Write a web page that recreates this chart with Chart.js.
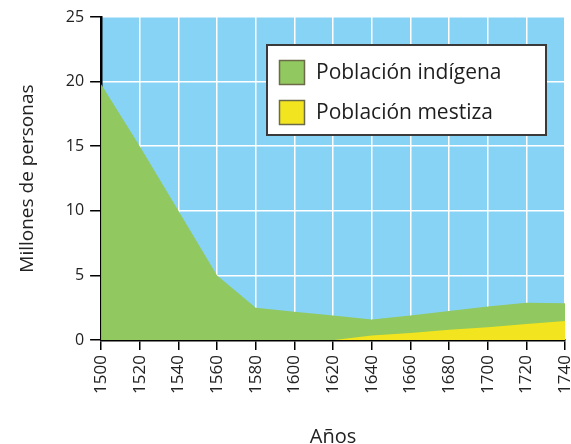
<!DOCTYPE html>
<html><head><meta charset="utf-8">
<script src="https://cdn.jsdelivr.net/npm/chart.js@4.4.0/dist/chart.umd.min.js"></script>
<style>html,body{margin:0;padding:0;background:#fff}#w{width:571px;height:444px}</style>
</head><body><div id="w"><canvas id="c"></canvas></div>
<script>
const years = ['1500','1520','1540','1560','1580','1600','1620','1640','1660','1680','1700','1720','1740'];
const indigena = [19.8,15,10,5,2.5,2.2,1.9,1.6,1.9,2.25,2.6,2.9,2.85];
const mestiza = [null,null,null,null,null,null,0,0.35,0.55,0.8,1.0,1.25,1.48];
const yTicks = [0,5,10,15,20,25];

const bgPlugin = {
  id:'bg',
  beforeDraw(chart){
    const {ctx, chartArea:a} = chart;
    ctx.save(); ctx.fillStyle='#87D3F5';
    ctx.fillRect(a.left,a.top,a.right-a.left,a.bottom-a.top); ctx.restore();
  }
};
const legendPlugin = {
  id:'boxLegend',
  afterDatasetsDraw(chart){
    const ctx = chart.ctx;
    const x=267,y=45,w=279,h=90;
    ctx.save();
    ctx.fillStyle='#fff'; ctx.fillRect(x,y,w,h);
    ctx.strokeStyle='#3a3a3a'; ctx.lineWidth=2; ctx.strokeRect(x,y,w,h);
    chart.data.datasets.forEach((ds,i)=>{
      const sy = y+15+i*40;
      ctx.fillStyle=ds.backgroundColor; ctx.fillRect(x+12,sy,26,25);
      ctx.strokeStyle='#6b6b4a'; ctx.lineWidth=1.5; ctx.strokeRect(x+12.5,sy+0.5,25,24);
      ctx.fillStyle='#1e1e1e'; ctx.font='21px "Open Sans"'; ctx.textBaseline='middle';
      ctx.fillText(ds.label,x+49,sy+13);
    });
    ctx.restore();
  }
};

new Chart(document.getElementById('c'),{
  type:'line',
  data:{labels:years,datasets:[
    {label:'Población indígena',data:indigena,backgroundColor:'#91C85F',borderWidth:0,pointRadius:0,fill:'origin',tension:0,order:2},
    {label:'Población mestiza',data:mestiza,backgroundColor:'#F2E41E',borderWidth:0,pointRadius:0,fill:'origin',tension:0,order:1}
  ]},
  options:{
    responsive:true,maintainAspectRatio:false,animation:false,
    layout:{padding:{top:17,right:6,left:12,bottom:0}},
    plugins:{legend:{display:false},tooltip:{enabled:false}},
    scales:{
      x:{type:'category',offset:false,
        afterFit(s){s.paddingRight=0;s.paddingLeft=0;},
        grid:{color:'#ffffff',lineWidth:1.5,tickColor:'#000',tickLength:10,tickWidth:1.5,drawOnChartArea:true},
        border:{color:'#000',width:2.5},
        ticks:{minRotation:90,maxRotation:90,color:'#222',font:{family:'"Open Sans"',size:17},padding:5},
        title:{display:true,text:'Años',color:'#222',font:{family:'"Open Sans"',size:20,lineHeight:0.7},padding:{top:31,bottom:0}}
      },
      y:{min:0,max:25,
        afterBuildTicks(s){s.ticks=yTicks.map(v=>({value:v}));},
        grid:{color:'#ffffff',lineWidth:1.5,tickColor:'#000',tickLength:11,tickWidth:1.5},
        border:{color:'#000',width:2.5},
        ticks:{color:'#222',font:{family:'"Open Sans"',size:16},padding:6},
        title:{display:true,text:'Millones de personas',color:'#222',font:{family:'"Open Sans"',size:19},padding:{bottom:21}}
      }
    }
  },
  plugins:[bgPlugin,legendPlugin]
});
</script></body></html>
